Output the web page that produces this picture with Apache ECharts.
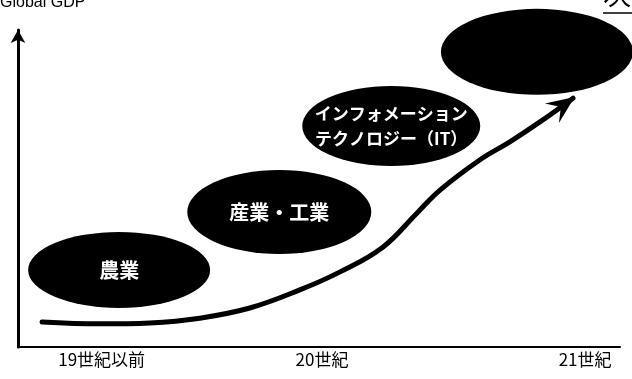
<!DOCTYPE html>
<html><head><meta charset="utf-8">
<script src="https://cdn.jsdelivr.net/npm/echarts@6/dist/echarts.min.js"></script>
<style>html,body{margin:0;padding:0;background:#fff}#c{width:632px;height:379px}</style>
</head><body><div id="c"></div>
<script>
// ---- data ----
const yAxisName = 'Global GDP';
const cornerTitle = '次世代';
const eraLabels = ['19世紀以前', '20世紀', '21世紀'];
const eraTickValues = [13.9, 50.5, 94.2];
const curveX = [4.0, 13.6, 21.9, 30.2, 38.5, 46.8, 53.5, 60.6, 66.3, 70.1, 76.7, 81.7, 86.7, 92.2];
const curveY = [7.9, 7.3, 7.6, 9.1, 12.3, 18.0, 23.7, 31.5, 42.3, 49.5, 59.0, 64.7, 71.0, 78.5];
const stageNames = ['農業', '産業・工業', 'インフォメーション\nテクノロジー（IT）', ''];
const stageX = [16.8, 43.4, 62.0, 86.2];
const stageY = [24.3, 42.6, 69.7, 93.1];

// ---- rendering ----
const ellipseRadii = [[91, 38], [92, 42], [89, 40], [96, 43]];
const stageFontSizes = [20, 20, 17, 17];
const chart = echarts.init(document.getElementById('c'), null, {renderer: 'canvas'});
const n = curveX.length;
const curveData = curveX.map((x, i) => [x, curveY[i]]);
const stageData = stageX.map((x, i) => [x, stageY[i]]);
const arrowData = [[curveX[n - 2], curveY[n - 2], curveX[n - 1], curveY[n - 1]]];
const jpFont = '"Noto Sans CJK JP", "Noto Sans CJK SC", sans-serif';

function eraFormatter(v) {
  let best = 0, bd = Infinity;
  eraTickValues.forEach((t, i) => { const d = Math.abs(t - v); if (d < bd) { bd = d; best = i; } });
  return eraLabels[best];
}

chart.setOption({
  animation: false,
  backgroundColor: '#fff',
  grid: {left: 18, right: 12, top: 30, bottom: 32},
  xAxis: {
    type: 'value', min: 0, max: 100,
    axisLine: {show: true, lineStyle: {color: '#000', width: 2}},
    axisTick: {show: false},
    splitLine: {show: false},
    axisLabel: {
      customValues: eraTickValues, formatter: eraFormatter,
      margin: 4, color: '#000', fontSize: 17, fontFamily: jpFont
    }
  },
  yAxis: {
    type: 'value', min: 0, max: 100,
    axisLine: {show: true, onZero: false, symbol: ['none', 'arrow'], symbolSize: [11, 13],
      lineStyle: {color: '#000', width: 3}},
    axisTick: {show: false}, axisLabel: {show: false}, splitLine: {show: false}
  },
  graphic: [
    {type: 'text', left: 0, top: -5, style: {text: yAxisName, font: '16px "Liberation Sans", Arial, sans-serif', fill: '#000'}},
    {type: 'text', left: 603, top: -20, style: {text: cornerTitle, font: '28px ' + jpFont, fill: '#000'}},
    {type: 'line', shape: {x1: 603, y1: 13, x2: 632, y2: 13}, style: {stroke: '#000', lineWidth: 1.5}}
  ],
  series: [
    {
      type: 'line', data: curveData, smooth: 0.4, showSymbol: false, silent: true,
      lineStyle: {color: '#000', width: 5, cap: 'round'}, z: 2
    },
    {
      type: 'custom', data: arrowData, silent: true, z: 3,
      renderItem: function (params, api) {
        const p0 = api.coord([api.value(0), api.value(1)]);
        const p1 = api.coord([api.value(2), api.value(3)]);
        let dx = p1[0] - p0[0], dy = p1[1] - p0[1];
        const L = Math.hypot(dx, dy); dx /= L; dy /= L;
        const px = -dy, py = dx;
        const tip = [p1[0] + dx * 2, p1[1] + dy * 2];
        const back = 28, notch = 17, half = 12;
        return {
          type: 'polygon',
          shape: {points: [
            tip,
            [tip[0] - dx * back + px * half, tip[1] - dy * back + py * half],
            [tip[0] - dx * notch, tip[1] - dy * notch],
            [tip[0] - dx * back - px * half, tip[1] - dy * back - py * half]
          ]},
          style: {fill: '#000'}
        };
      }
    },
    {
      type: 'custom', data: stageData, silent: true, z: 4,
      renderItem: function (params, api) {
        const c = api.coord([api.value(0), api.value(1)]);
        const r = ellipseRadii[params.dataIndex];
        const fs = stageFontSizes[params.dataIndex];
        return {
          type: 'group', x: c[0], y: c[1],
          children: [
            {type: 'circle', shape: {cx: 0, cy: 0, r: r[1]}, scaleX: r[0] / r[1], style: {fill: '#000'}},
            {type: 'text', style: {text: stageNames[params.dataIndex], x: 0, y: 0, align: 'center',
              verticalAlign: 'middle', fill: '#fff', font: 'bold ' + fs + 'px ' + jpFont, lineHeight: 25}}
          ]
        };
      }
    }
  ]
});
</script>
</body></html>
